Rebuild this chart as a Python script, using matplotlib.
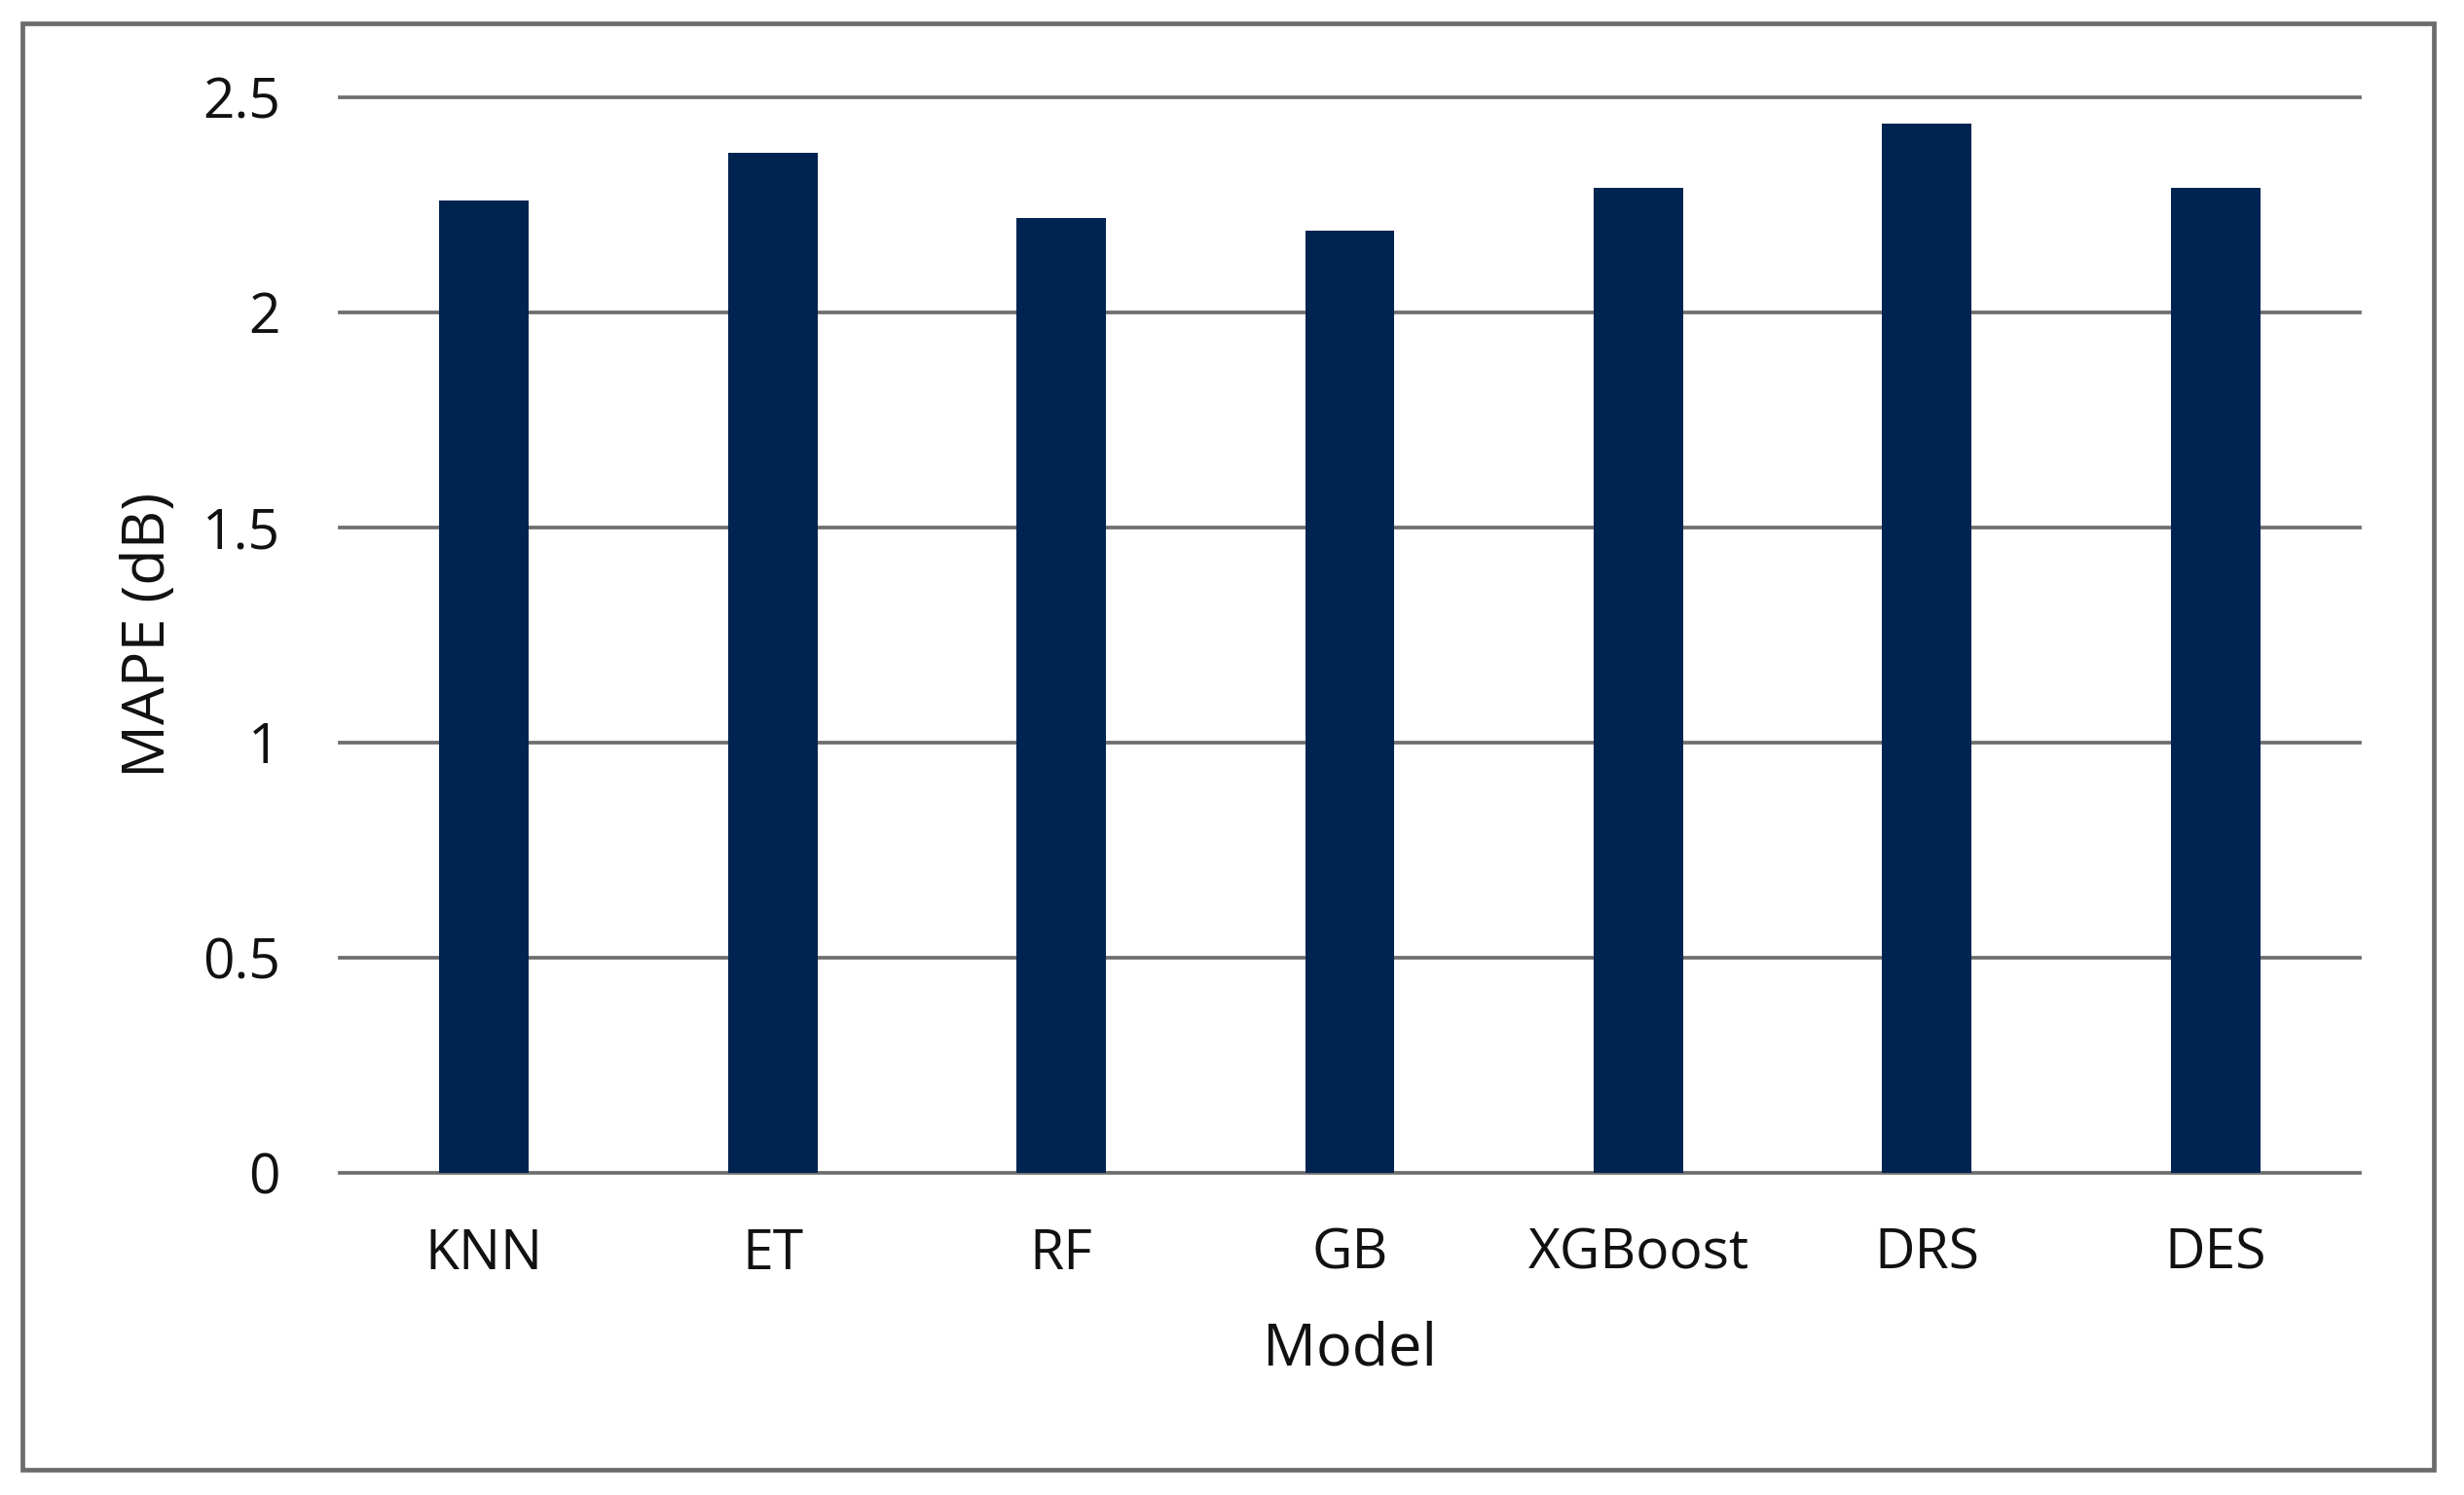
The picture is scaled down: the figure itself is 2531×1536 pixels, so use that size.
import matplotlib
matplotlib.use("Agg")
import matplotlib.pyplot as plt
from matplotlib.patches import Rectangle

models = ["KNN", "ET", "RF", "GB", "XGBoost", "DRS", "DES"]
mape = [2.26, 2.37, 2.22, 2.19, 2.29, 2.44, 2.29]
yticks = [0, 0.5, 1, 1.5, 2, 2.5]
ytick_labels = ["0", "0.5", "1", "1.5", "2", "2.5"]

plt.rcParams['font.family'] = ['Open Sans', 'DejaVu Sans']

W, H, DPI = 2531, 1536, 100
fig = plt.figure(figsize=(W / DPI, H / DPI), dpi=DPI)
fig.patch.set_facecolor("white")

ax = fig.add_axes([349 / W, 1 - 1205 / H, (2424 - 349) / W, (1205 - 100) / H])
x = list(range(len(models)))
ax.bar(x, mape, width=0.31, color="#002451", zorder=3)
ax.set_xlim(-0.5, len(models) - 0.5)
ax.set_ylim(0, 2.5)
ax.set_yticks(yticks)
ax.set_yticklabels(ytick_labels)
ax.set_xticks(x)
ax.set_xticklabels(models)
for y in yticks:
    ax.axhline(y, color="#6e6e6e", linewidth=2.7, zorder=1, clip_on=False)
for s in ax.spines.values():
    s.set_visible(False)
ax.tick_params(axis="both", length=0, colors="#111111", labelsize=41)
ax.tick_params(axis="y", pad=44)
ax.tick_params(axis="x", pad=40)
ax.set_xlabel("Model", fontsize=44, color="#111111", labelpad=28)
ax.set_ylabel("MAPE (dB)", fontsize=44, color="#111111", va="center")
ax.yaxis.set_label_coords(-0.0945, 0.5)

border = Rectangle((23 / W, 1 - 1510 / H), (2500 - 23) / W, (1510 - 24) / H,
                   transform=fig.transFigure, fill=False, edgecolor="#6b6b6b",
                   linewidth=3.4)
fig.patches.append(border)

fig.savefig("out.png", dpi=DPI, facecolor="white")
